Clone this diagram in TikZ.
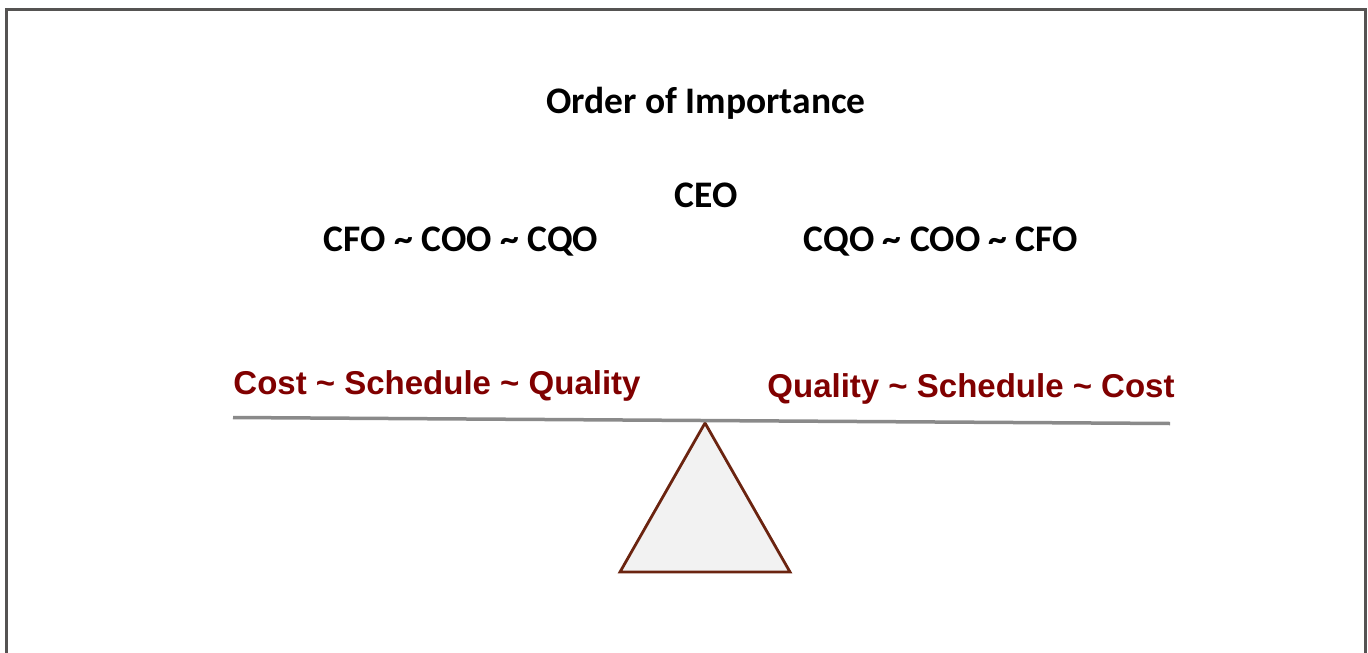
\documentclass[tikz,border=0pt]{standalone}
\usepackage{fontspec}
\setmainfont{Carlito}
\newfontfamily\arialfont{Liberation Sans}
\definecolor{framegray}{HTML}{555352}
\definecolor{beamgray}{HTML}{8A8A8A}
\definecolor{labelred}{HTML}{800000}
\definecolor{standbrown}{HTML}{6B2410}
\definecolor{standfill}{HTML}{F2F2F2}
\begin{document}
\begin{tikzpicture}[x=1pt,y=-1pt,
  heading/.style={font=\fontsize{37.5}{40}\selectfont\bfseries, text=black, inner sep=0pt},
  weightlabel/.style={font=\arialfont\fontsize{33}{36}\selectfont\bfseries, text=labelred, inner sep=0pt},
]
\useasboundingbox (0,0) rectangle (1368,653);
% open frame, cut at the bottom
\draw[framegray, line width=3pt] (6.5,653) -- (6.5,9.5) -- (1365.5,9.5) -- (1365.5,653);

\node[heading] (title) at (706,103) {Order of Importance};
\node[heading] (ceo) at (706,195) {CEO};
\node[heading] (left) at (461,242) {CFO \textasciitilde{} COO \textasciitilde{} CQO};
\node[heading] (right) at (941,242) {CQO \textasciitilde{} COO \textasciitilde{} CFO};

\node[weightlabel] (wl) at (437,385.5) {Cost \textasciitilde{} Schedule \textasciitilde{} Quality};
\node[weightlabel] (wr) at (971,388.5) {Quality \textasciitilde{} Schedule \textasciitilde{} Cost};

% fulcrum
\coordinate (apex) at (705,423);
\coordinate (bl) at (620,572);
\coordinate (br) at (790,572);
\draw[standbrown, fill=standfill, line width=2.8pt, line join=miter] (apex) -- (br) -- (bl) -- cycle;

% beam
\coordinate (beamL) at (233,417.5);
\coordinate (beamR) at (1170,423.5);
\draw[beamgray, line width=3.5pt] (beamL) -- (beamR);
\end{tikzpicture}
\end{document}
